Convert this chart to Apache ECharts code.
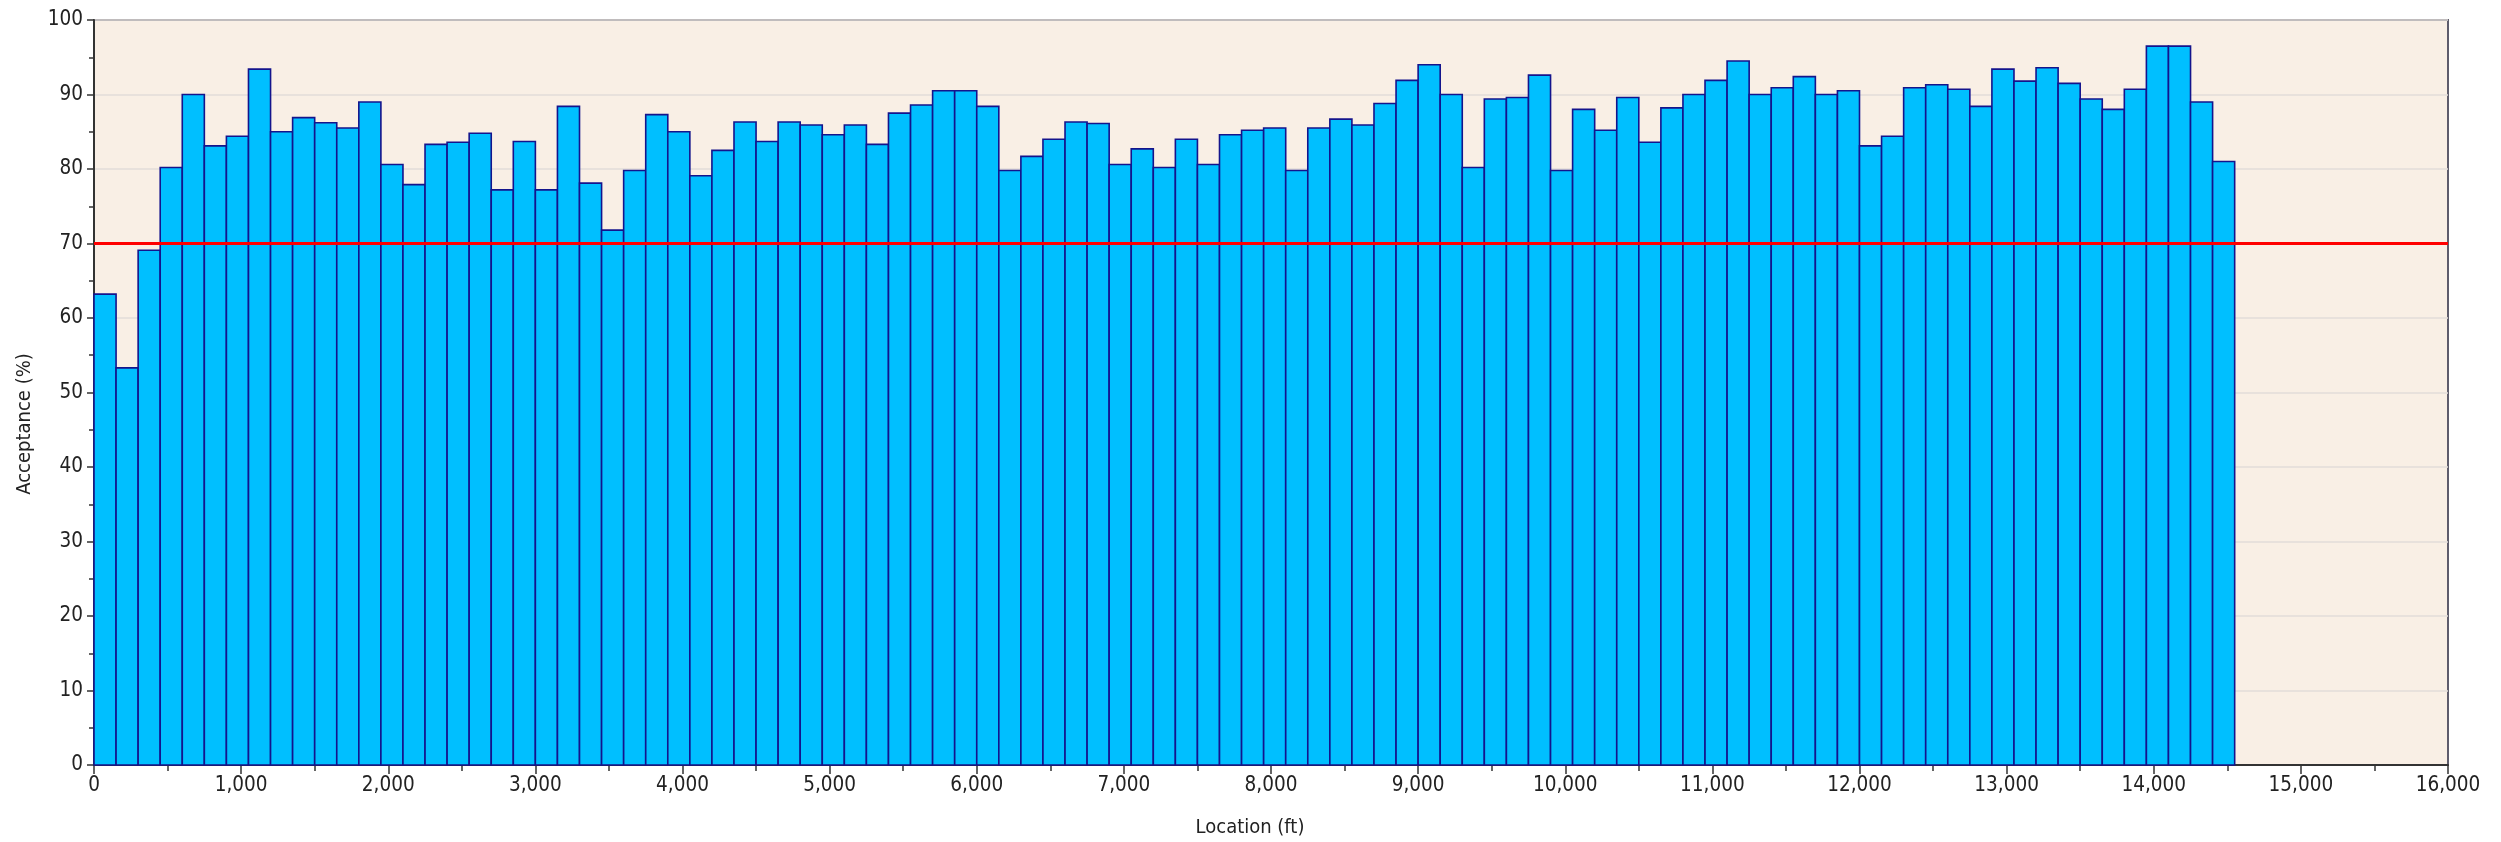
<!DOCTYPE html>
<html>
<head>
<meta charset="utf-8">
<script src="https://cdn.jsdelivr.net/npm/echarts@6/dist/echarts.min.js"></script>
<style>
html,body{margin:0;padding:0;background:#fff;}
#chart{width:2501px;height:842px;}
</style>
</head>
<body>
<div id="chart"></div>
<script>
// Bin start locations (ft); each bin is 150 ft wide
const binStarts = [
  0,150,300,450,600,750,900,1050,1200,1350,1500,1650,1800,1950,2100,2250,2400,2550,2700,2850,
  3000,3150,3300,3450,3600,3750,3900,4050,4200,4350,4500,4650,4800,4950,5100,5250,5400,5550,5700,5850,
  6000,6150,6300,6450,6600,6750,6900,7050,7200,7350,7500,7650,7800,7950,8100,8250,8400,8550,8700,8850,
  9000,9150,9300,9450,9600,9750,9900,10050,10200,10350,10500,10650,10800,10950,11100,11250,11400,11550,11700,11850,
  12000,12150,12300,12450,12600,12750,12900,13050,13200,13350,13500,13650,13800,13950,14100,14250,14400
];
const binWidth = 150;
// Acceptance (%) per bin
const acceptance = [
  63.2,53.3,69.1,80.2,90.0,83.1,84.4,93.4,85.0,86.9,86.2,85.5,89.0,80.6,77.9,83.3,83.6,84.8,77.2,83.7,
  77.2,88.4,78.1,71.8,79.8,87.3,85.0,79.1,82.5,86.3,83.7,86.3,85.9,84.6,85.9,83.3,87.5,88.6,90.5,90.5,
  88.4,79.8,81.7,84.0,86.3,86.1,80.6,82.7,80.2,84.0,80.6,84.6,85.2,85.5,79.8,85.5,86.7,85.9,88.8,91.9,
  94.0,90.0,80.2,89.4,89.6,92.6,79.8,88.0,85.2,89.6,83.6,88.2,90.0,91.9,94.5,90.0,90.9,92.4,90.0,90.5,
  83.1,84.4,90.9,91.3,90.7,88.4,93.4,91.8,93.6,91.5,89.4,88.0,90.7,96.5,96.5,89.0,81.0
];
const threshold = 70;
const xTicks = { min: 0, max: 16000, interval: 1000 };
const yTicks = { min: 0, max: 100, interval: 10 };
const xTitle = 'Location (ft)';
const yTitle = 'Acceptance (%)';

const chart = echarts.init(document.getElementById('chart'), null, {renderer:'canvas'});
const FONT = '"DejaVu Sans Condensed", "DejaVu Sans", sans-serif';
const data = binStarts.map((s, i) => [s, s + binWidth, acceptance[i]]);

chart.setOption({
  animation: false,
  backgroundColor: '#ffffff',
  grid: {
    left: 94, right: 53, top: 20, bottom: 77,
    show: true, backgroundColor: '#F9EFE5', borderColor: '#5e5c6c', borderWidth: 2
  },
  graphic: [
    { type: 'text', x: 1250, y: 828, style: { text: xTitle, fill: '#222', font: '20px ' + FONT, align: 'center', verticalAlign: 'middle' } },
    { type: 'text', x: 25, y: 424, rotation: Math.PI / 2, style: { text: yTitle, fill: '#222', font: '20px ' + FONT, align: 'center', verticalAlign: 'middle' } }
  ],
  xAxis: {
    type: 'value', min: xTicks.min, max: xTicks.max, interval: xTicks.interval,
    axisLine: { show: true, onZero: false, lineStyle: { color: '#333', width: 2 } },
    axisTick: { show: true, length: 9, lineStyle: { color: '#333', width: 1.5 } },
    minorTick: { show: true, splitNumber: 2, length: 6, lineStyle: { color: '#333', width: 1.5 } },
    splitLine: { show: false },
    axisLabel: {
      fontFamily: FONT, fontSize: 20.5, color: '#222', margin: 10,
      formatter: v => v.toLocaleString('en-US')
    }
  },
  yAxis: {
    type: 'value', min: yTicks.min, max: yTicks.max, interval: yTicks.interval,
    axisLine: { show: true, lineStyle: { color: '#333', width: 2 } },
    axisTick: { show: true, length: 7, lineStyle: { color: '#333', width: 1.5 } },
    minorTick: { show: true, splitNumber: 2, length: 5, lineStyle: { color: '#333', width: 1.5 } },
    splitLine: { show: true, lineStyle: { color: '#e2ddd8', width: 1.5 } },
    axisLabel: { fontFamily: FONT, fontSize: 20.5, color: '#222', margin: 11 }
  },
  series: [{
    type: 'custom',
    data: data,
    encode: { x: [0, 1], y: 2 },
    renderItem: function (params, api) {
      const p0 = api.coord([api.value(0), 0]);
      const p1 = api.coord([api.value(1), api.value(2)]);
      return {
        type: 'rect',
        shape: { x: p0[0], y: p1[1], width: p1[0] - p0[0], height: p0[1] - p1[1] },
        style: { fill: '#00BFFF', stroke: '#14148c', lineWidth: 1.6 }
      };
    },
    markLine: {
      silent: true, symbol: 'none', label: { show: false },
      lineStyle: { color: '#ff0000', width: 3, type: 'solid' },
      data: [{ yAxis: threshold }]
    },
    z: 2
  }]
});
</script>
</body>
</html>
